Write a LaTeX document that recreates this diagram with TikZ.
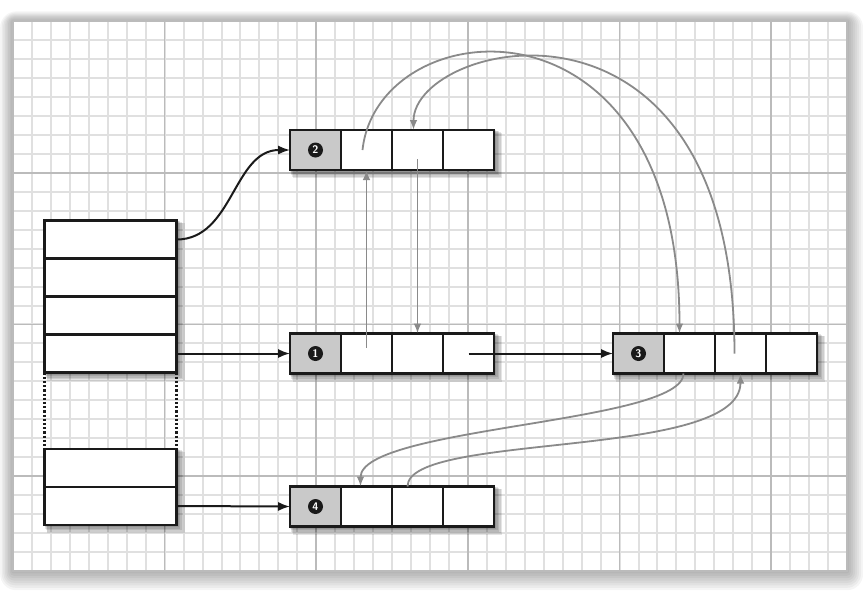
\documentclass[tikz,border=0pt]{standalone}
\usetikzlibrary{arrows.meta,positioning,fit,backgrounds}
\definecolor{ink}{HTML}{1A1A1A}
\definecolor{wire}{HTML}{8A8A8A}
\definecolor{tagfill}{HTML}{C9C9C9}
\definecolor{minorgrid}{HTML}{E0E0E0}
\definecolor{majorgrid}{HTML}{BBBBBB}
\pgfdeclarelayer{paper}
\pgfsetlayers{paper,background,main}
\tikzset{
  boardpanel/.style={fill=white, inner sep=0pt, outer sep=0pt, anchor=north west,
    minimum width=417pt, minimum height=275pt},
  minorline/.style={draw=minorgrid, line width=1pt},
  majorline/.style={draw=majorgrid, line width=0.8pt},
  slot/.style={draw=ink, fill=white, line width=1.2pt, minimum width=25.5pt,
    minimum height=20pt, inner sep=0pt, outer sep=0pt},
  tag/.style={slot, fill=tagfill},
  row/.style={draw=ink, fill=white, line width=1.2pt, minimum width=66pt,
    minimum height=19pt, inner sep=0pt, outer sep=0pt},
  num/.style={circle, fill=ink, text=white, minimum size=7.5pt, inner sep=0pt,
    font=\sffamily\bfseries\fontsize{5.5}{5.5}\selectfont},
  ptr/.style={-{Latex[length=6pt,width=4.6pt]}, draw=ink, line width=1pt},
  link/.style={-{Latex[length=5pt,width=3.8pt]}, draw=wire, line width=0.9pt},
  gap/.style={draw=ink, densely dotted, line width=1.1pt},
}
\newcommand{\recshadow}[2]{%
  \begin{scope}[on background layer]
    \node[fit=#1, inner sep=0pt] (#2) {};
    \foreach \k in {1,...,5}
      \fill[black, opacity=0.1]
        ([shift={(\k*0.3pt,-\k*0.8pt)}]#2.south west) rectangle
        ([shift={(\k*0.8pt,-\k*0.3pt)}]#2.north east);
  \end{scope}
}

\begin{document}
\begin{tikzpicture}[x=0.5pt, y=-0.5pt]
\useasboundingbox (0,0) rectangle (863,591);

% paper and grid
\begin{pgfonlayer}{paper}
\fill[white] (0,0) rectangle (863,591);
\node[boardpanel] (board) at (13,21) {};
\foreach \k in {1,...,8}
  \fill[black, opacity=0.04, rounded corners=\k pt]
    ([shift={(-\k*0.8pt,-\k*1.2pt)}]board.south west) rectangle
    ([shift={(\k*1pt,\k*0.6pt)}]board.north east);
\fill[white] (board.south west) rectangle (board.north east);
\foreach \i in {0,...,44}
  \draw[minorline] (13+\i*18.955,21) -- (13+\i*18.955,571);
\foreach \j in {0,...,29}
  \draw[minorline] (13,21+\j*18.966) -- (847,21+\j*18.966);
\foreach \i in {8,16,...,40}
  \draw[majorline] (13+\i*18.955,21) -- (13+\i*18.955,571);
\foreach \j in {8,16,24}
  \draw[majorline] (13,21+\j*18.966) -- (847,21+\j*18.966);
\draw[majorline] (board.south west) rectangle (board.north east);
\end{pgfonlayer}

% table
\node[row] (t1) at (110.5,239.5) {};
\node[row, below=0pt of t1] (t2) {};
\node[row, below=0pt of t2] (t3) {};
\node[row, below=0pt of t3] (t4) {};
\node[row] (u1) at (110.5,468) {};
\node[row, below=0pt of u1] (u2) {};
\draw[gap] (t4.south west) -- (u1.north west);
\draw[gap] (t4.south east) -- (u1.north east);
\recshadow{(t1)(t4)}{tbox}
\recshadow{(u1)(u2)}{ubox}

% record 2
\node[tag] (r2a) at (315.5,150) {};
\node[slot, right=0pt of r2a] (r2b) {};
\node[slot, right=0pt of r2b] (r2c) {};
\node[slot, right=0pt of r2c] (r2d) {};
\node[num] (n2) at (r2a) {2};
\recshadow{(r2a)(r2d)}{r2box}

% record 1
\node[tag] (r1a) at (315.5,353.5) {};
\node[slot, right=0pt of r1a] (r1b) {};
\node[slot, right=0pt of r1b] (r1c) {};
\node[slot, right=0pt of r1c] (r1d) {};
\node[num] (n1) at (r1a) {1};
\recshadow{(r1a)(r1d)}{r1box}

% record 3
\node[tag] (r3a) at (638.5,353.5) {};
\node[slot, right=0pt of r3a] (r3b) {};
\node[slot, right=0pt of r3b] (r3c) {};
\node[slot, right=0pt of r3c] (r3d) {};
\node[num] (n3) at (r3a) {3};
\recshadow{(r3a)(r3d)}{r3box}

% record 4
\node[tag] (r4a) at (315.5,506.5) {};
\node[slot, right=0pt of r4a] (r4b) {};
\node[slot, right=0pt of r4b] (r4c) {};
\node[slot, right=0pt of r4c] (r4d) {};
\node[num] (n4) at (r4a) {4};
\recshadow{(r4a)(r4d)}{r4box}

% pointers
\draw[ptr] (t1.east) to[out=0, in=180] (r2a.west);
\draw[ptr] (t4.east) -- (r1a.west);
\draw[ptr] (u2.east) -- (r4a.west);
\draw[ptr] (r1d.center) -- (r3a.west);

% links
\draw[link] ([yshift=3pt]r1b.center) -- (r2b.south);
\draw[link] ([yshift=-4.5pt]r2c.center) -- (r1c.north);
\draw[link] ([xshift=-2pt]r2b.center) .. controls +(15,-140) and +(0,-353) .. ([xshift=-5pt]r3b.north);
\draw[link] ([xshift=-3pt]r3c.center) .. controls +(0,-390) and +(0,-90) .. ([xshift=-2pt]r2c.north);
\draw[link] ([xshift=-3pt]r3b.south) .. controls +(0,50) and +(0,-60) .. ([xshift=-3pt]r4b.north);
\draw[link] ([xshift=-5pt]r4c.north) .. controls +(0,-55) and +(0,87) .. (r3c.south);

\end{tikzpicture}
\end{document}
